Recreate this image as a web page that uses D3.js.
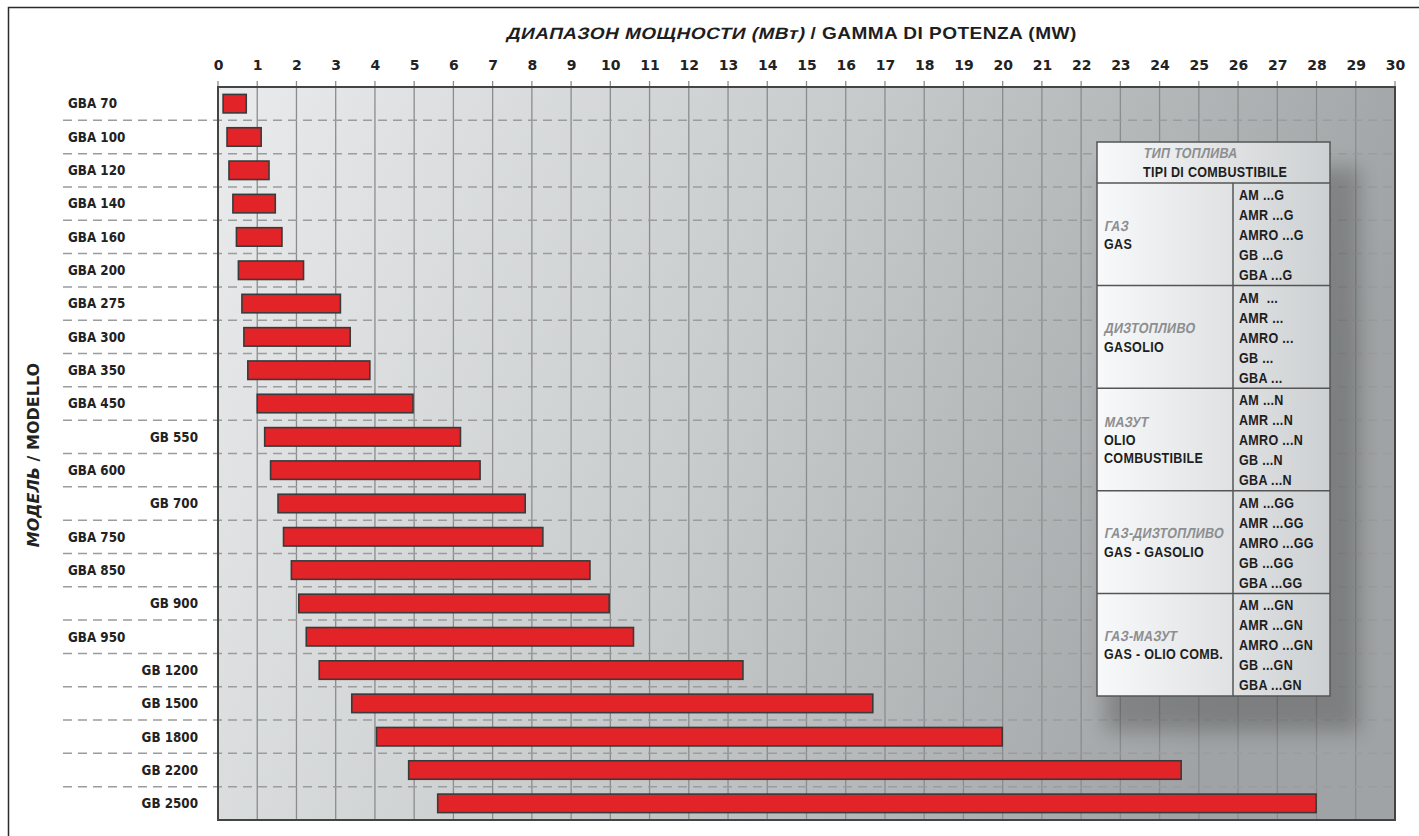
<!DOCTYPE html>
<html>
<head>
<meta charset="utf-8">
<script src="https://cdn.jsdelivr.net/npm/d3@7"></script>
<style>
  html, body { margin: 0; padding: 0; background: #fff; }
  svg { display: block; }
</style>
</head>
<body>
<svg id="chart" width="1419" height="836"></svg>
<script>
// ---------- DATA ----------
const models = ["GBA 70","GBA 100","GBA 120","GBA 140","GBA 160","GBA 200","GBA 275","GBA 300","GBA 350","GBA 450",
  "GB 550","GBA 600","GB 700","GBA 750","GBA 850","GB 900","GBA 950","GB 1200","GB 1500","GB 1800","GB 2200","GB 2500"];
const minMW = [0.13,0.23,0.28,0.38,0.47,0.52,0.61,0.66,0.76,1.00,1.19,1.34,1.53,1.67,1.87,2.06,2.25,2.58,3.41,4.04,4.86,5.60];
const maxMW = [0.72,1.10,1.30,1.46,1.63,2.18,3.12,3.37,3.87,4.97,6.18,6.68,7.83,8.28,9.48,9.97,10.59,13.38,16.69,19.99,24.55,27.99];
const xTicks = d3.range(0, 31);

const titleRu = "ДИАПАЗОН МОЩНОСТИ (МВт)";
const titleIt = " / GAMMA DI POTENZA (MW)";
const yTitleRu = "МОДЕЛЬ";
const yTitleIt = " / MODELLO";

const legendHeadRu = "ТИП ТОПЛИВА";
const legendHeadIt = "TIPI DI COMBUSTIBILE";
const fuelRu = ["ГАЗ","ДИЗТОПЛИВО","МАЗУТ","ГАЗ-ДИЗТОПЛИВО","ГАЗ-МАЗУТ"];
const fuelIt = [["GAS"],["GASOLIO"],["OLIO","COMBUSTIBILE"],["GAS - GASOLIO"],["GAS - OLIO COMB."]];
const codePrefixes = ["AM","AMR","AMRO","GB","GBA"];
const codeSuffixes = ["G","","N","GG","GN"];

// ---------- LAYOUT ----------
const svg = d3.select("#chart");
const plot = {left: 218, right: 1395, top: 87, bottom: 820};
const x = d3.scaleLinear().domain([0, 30]).range([plot.left, plot.right]);
const y = d3.scaleBand().domain(models).range([plot.top, plot.bottom]).padding(0);
const barH = 18.5;

const defs = svg.append("defs");
const bg = defs.append("linearGradient").attr("id","bgGrad")
  .attr("x1",0).attr("y1",0).attr("x2",1).attr("y2",0.25);
bg.append("stop").attr("offset","0%").attr("stop-color","#e9ebec");
bg.append("stop").attr("offset","50%").attr("stop-color","#c9cccd");
bg.append("stop").attr("offset","100%").attr("stop-color","#a0a3a5");

const lg = defs.append("linearGradient").attr("id","legGrad")
  .attr("x1",0).attr("y1",0).attr("x2",1).attr("y2",0);
lg.append("stop").attr("offset","0%").attr("stop-color","#f8f9fa");
lg.append("stop").attr("offset","100%").attr("stop-color","#cdd0d2");

const blur = defs.append("filter").attr("id","shadowBlur")
  .attr("x","-20%").attr("y","-20%").attr("width","140%").attr("height","140%");
blur.append("feGaussianBlur").attr("stdDeviation", 10);

// outer frame (left + top visible)
svg.append("rect").attr("x",8.5).attr("y",7.5).attr("width",1440).attr("height",900)
  .attr("fill","none").attr("stroke","#2b2b2b").attr("stroke-width",1.5);

// plot background
svg.append("rect").attr("x",plot.left).attr("y",plot.top)
  .attr("width",plot.right-plot.left).attr("height",plot.bottom-plot.top)
  .attr("fill","url(#bgGrad)");

// vertical grid lines (extend above plot as tick marks)
svg.append("g").selectAll("line").data(xTicks).join("line")
  .attr("x1", d => x(d)).attr("x2", d => x(d))
  .attr("y1", plot.top - 6).attr("y2", plot.bottom)
  .attr("stroke", "#8a8c8e").attr("stroke-width", 1.3);

// x tick labels via d3 axis
const xAxis = svg.append("g").attr("transform", `translate(0,${plot.top - 17})`)
  .call(d3.axisTop(x).tickValues(xTicks).tickSize(0).tickPadding(0).tickFormat(d3.format("d")));
xAxis.select(".domain").remove();
xAxis.selectAll("text")
  .attr("font-family","'DejaVu Sans', sans-serif")
  .attr("font-weight","bold").attr("font-size",14).attr("fill","#222");

// dashed row separators
const seps = models.slice(1);
svg.append("g").selectAll("line").data(seps).join("line")
  .attr("x1", 63).attr("x2", plot.right)
  .attr("y1", d => y(d)).attr("y2", d => y(d))
  .attr("stroke", "#9a9c9e").attr("stroke-width", 1.5)
  .attr("stroke-dasharray", "9,6");

// legend shadow
const L = {x: 1097, y: 142, w: 233, h: 554, head: 41, col: 1233};
svg.append("rect").attr("x", L.x + 8).attr("y", L.y + 25)
  .attr("width", L.w + 22).attr("height", L.h + 10)
  .attr("fill", "#000").attr("opacity", 0.22).attr("filter","url(#shadowBlur)");

// bars
svg.append("g").selectAll("rect").data(models).join("rect")
  .attr("x", (d,i) => x(minMW[i]))
  .attr("width", (d,i) => x(maxMW[i]) - x(minMW[i]))
  .attr("y", d => y(d) + y.bandwidth()/2 - barH/2)
  .attr("height", barH)
  .attr("fill", "#e22327").attr("stroke", "#3a3a3a").attr("stroke-width", 1.6);

// plot border
svg.append("rect").attr("x",plot.left).attr("y",plot.top)
  .attr("width",plot.right-plot.left).attr("height",plot.bottom-plot.top)
  .attr("fill","none").attr("stroke","#444").attr("stroke-width",2);

// row labels
svg.append("g").selectAll("text").data(models).join("text")
  .attr("x", d => d.startsWith("GBA") ? 68 : 198)
  .attr("text-anchor", d => d.startsWith("GBA") ? "start" : "end")
  .attr("y", d => y(d) + y.bandwidth()/2 + 4.8)
  .attr("font-family","'DejaVu Sans Condensed','DejaVu Sans', sans-serif")
  .attr("font-weight","bold").attr("font-size",13.3).attr("fill","#222")
  .text(d => d);

// title: Russian part oblique (skewed upright glyphs), Italian upright; stretched to fit
const titleFont = "'Liberation Sans', Arial, sans-serif";
const tRu = svg.append("text")
  .attr("font-family", titleFont).attr("font-weight","bold").attr("font-size",16.5)
  .attr("letter-spacing",0.4).attr("fill","#1e1e1e").text(titleRu);
const tIt = svg.append("text")
  .attr("font-family", titleFont).attr("font-weight","bold").attr("font-size",16.5)
  .attr("letter-spacing",0.4).attr("fill","#1e1e1e")
  .attr("xml:space","preserve").style("white-space","pre").text(titleIt);
{
  const w1 = tRu.node().getComputedTextLength();
  const w2 = tIt.node().getComputedTextLength();
  const sx = 571 / (w1 + w2);
  tRu.attr("transform", `translate(506,38.5) scale(${sx.toFixed(4)},1) skewX(-12)`);
  tIt.attr("transform", `translate(${506 + w1 * sx},38.5) scale(${sx.toFixed(4)},1)`);
}

// y axis title
const yt = svg.append("text")
  .attr("transform", "translate(39,455) rotate(-90)")
  .attr("text-anchor","middle")
  .attr("font-family","'DejaVu Sans', sans-serif")
  .attr("font-weight","bold").attr("font-size",16).attr("fill","#222");
yt.append("tspan").attr("font-style","italic").text(yTitleRu);
yt.append("tspan").text(yTitleIt);

// ---------- LEGEND ----------
const leg = svg.append("g");
leg.append("rect").attr("x",L.x).attr("y",L.y).attr("width",L.w).attr("height",L.h)
  .attr("fill","url(#legGrad)").attr("stroke","#555").attr("stroke-width",1.5);
const secH = (L.h - L.head) / fuelRu.length;
const secTop = i => L.y + L.head + i * secH;
leg.selectAll("line.h").data(d3.range(0, fuelRu.length)).join("line")
  .attr("class","h").attr("x1",L.x).attr("x2",L.x+L.w)
  .attr("y1", i => secTop(i)).attr("y2", i => secTop(i))
  .attr("stroke","#555").attr("stroke-width",1.5);
leg.append("line").attr("x1",L.col).attr("x2",L.col)
  .attr("y1",L.y+L.head).attr("y2",L.y+L.h)
  .attr("stroke","#555").attr("stroke-width",1.5);

// condensed look: Liberation Sans Bold, horizontally scaled
function ltext(tx, ty, str, ru) {
  return leg.append("text")
    .attr("transform", ru ? `translate(${tx},${ty}) scale(0.86,1) skewX(-12)`
                          : `translate(${tx},${ty}) scale(0.86,1)`)
    .attr("font-family","'Liberation Sans', Arial, sans-serif")
    .attr("font-weight","bold").attr("font-size",14.6)
    .attr("letter-spacing",0.35)
    .attr("fill", ru ? "#8c8e90" : "#1e1e1e")
    .attr("xml:space","preserve").style("white-space","pre")
    .text(str);
}

ltext(1143, 157.5, legendHeadRu, true);
ltext(1143, 176.7, legendHeadIt, false);

fuelRu.forEach((ru, i) => {
  const top = secTop(i);
  const c = top + secH/2;
  const lines = 1 + fuelIt[i].length;
  const first = c - (lines - 1) * 18.3 / 2 + 5.5;
  ltext(1104, first, ru, true);
  fuelIt[i].forEach((it, j) => ltext(1104, first + 18.3*(j+1), it, false));
  codePrefixes.forEach((p, k) => {
    const s = codeSuffixes[i];
    ltext(1239, top + 17 + 20*k, p + (s === "" && p === "AM" ? "  ..." : " ...") + s, false);
  });
});
</script>
</body>
</html>
